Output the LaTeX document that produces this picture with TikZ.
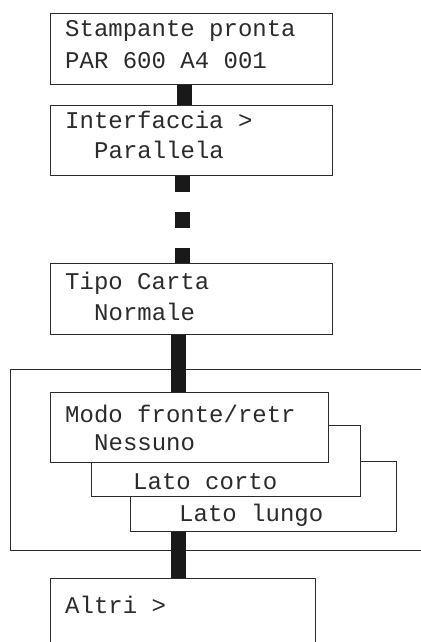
\documentclass[tikz,border=0pt]{standalone}
\usepackage{fontspec}
\setmonofont{Liberation Mono}
\usepackage{tikz}
\definecolor{PanelInk}{HTML}{2B2B2B}
\tikzset{
  panel/.style={
    draw=PanelInk,
    fill=white,
    line width=.9pt,
    anchor=north west,
    inner sep=0pt
  },
  lcd/.style={
    font=\ttfamily\fontsize{24}{30}\selectfont,
    text=PanelInk,
    anchor=base west,
    inner sep=0pt
  },
  link/.style={draw=black!90,line width=15pt}
}

\begin{document}
\begin{tikzpicture}[x=1pt,y=-1pt]
  \useasboundingbox (0,0) rectangle (420,642);

  % Frame round the duplex submenu, open to the right.
  \draw[draw=PanelInk,line width=.9pt] (430,369) -| (10,550) -- (430,550);

  % Menu panels; the option panels are stacked behind one another.
  \node[panel,minimum width=282,minimum height=71] (stampante) at (50,13) {};
  \node[panel,minimum width=282,minimum height=70] (interfaccia) at (50,105) {};
  \node[panel,minimum width=282,minimum height=71] (tipocarta) at (50,263) {};
  \node[panel,minimum width=266,minimum height=70] (lungo) at (130,461) {};
  \node[panel,minimum width=269,minimum height=71] (corto) at (91,425) {};
  \node[panel,minimum width=278,minimum height=70] (modo) at (50,392) {};
  \node[panel,minimum width=265,minimum height=90] (altri) at (50,578) {};

  % Panel texts.
  \node[lcd] (stampante-1) at (65,37) {Stampante pronta};
  \node[lcd] (stampante-2) at (65,68) {PAR 600 A4 001};
  \node[lcd] (interfaccia-1) at (65,128) {Interfaccia >};
  \node[lcd] (interfaccia-2) at (94,158) {Parallela};
  \node[lcd] (tipocarta-1) at (65,289) {Tipo Carta};
  \node[lcd] (tipocarta-2) at (94,320) {Normale};
  \node[lcd] (modo-1) at (65,422) {Modo fronte/retr};
  \node[lcd] (modo-2) at (94,450) {Nessuno};
  \node[lcd] (corto-1) at (133,489) {Lato corto};
  \node[lcd] (lungo-1) at (179,521) {Lato lungo};
  \node[lcd] (altri-1) at (65,613) {Altri >};

  % Thick connectors between the panels.
  \coordinate (c1) at (184.5,0);
  \coordinate (c2) at (182.5,0);
  \coordinate (c3) at (178.5,0);
  \draw[link] (stampante.south -| c1) -- (interfaccia.north -| c1);
  \draw[link,dash pattern=on 16pt off 20pt] (interfaccia.south -| c2) -- (tipocarta.north -| c2);
  \draw[link] (tipocarta.south -| c3) -- (modo.north -| c3);
  \draw[link] (lungo.south -| c3) -- (altri.north -| c3);
\end{tikzpicture}
\end{document}
